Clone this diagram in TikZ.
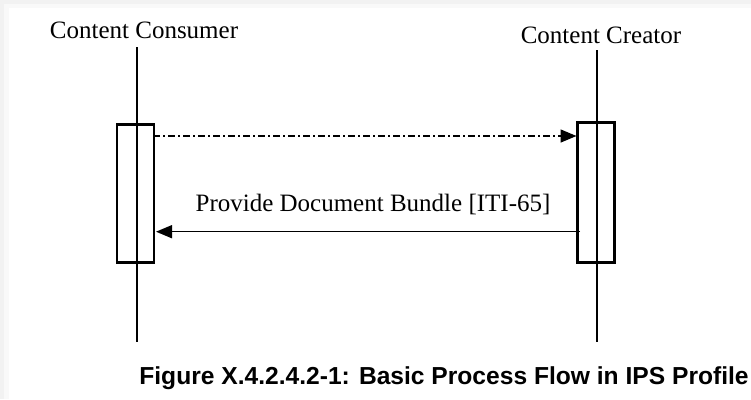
\documentclass[tikz,border=0pt]{standalone}
\usepackage{fontspec}
\setmainfont{Liberation Serif}
\newfontfamily\capfont{Liberation Sans}
\usetikzlibrary{arrows.meta}

\tikzset{
  actor/.style={font=\fontsize{25}{28}\selectfont, inner sep=0pt, anchor=base},
  lifeline/.style={line width=2pt},
  actbox/.style={draw, line width=2.6pt, fill=none, minimum width=37pt, inner sep=0pt},
  msg/.style={line width=1.5pt, -{Triangle[length=16pt, width=13pt]}},
  dashdot msg/.style={msg, dash pattern=on 7pt off 3pt on 2pt off 3pt},
  msglabel/.style={font=\fontsize{25}{28}\selectfont, inner sep=0pt, anchor=base},
  caption/.style={font=\capfont\bfseries\fontsize{24.6}{28}\selectfont, inner sep=0pt, anchor=base}
}

\begin{document}
\begin{tikzpicture}[x=1pt, y=-1pt]
  % page with a soft grey rim along the top and left edges
  \fill[gray!10] (0,0) rectangle (751,399);
  \fill[gray!5] (4,4) rectangle (751,399);
  \fill[white] (9,8) rectangle (751,399);
  \useasboundingbox (0,0) rectangle (751,399);

  % actors
  \node[actor] (consumer) at (144,38) {Content Consumer};
  \node[actor] (creator) at (601,43.5) {Content Creator};

  % lifelines
  \coordinate (consTop) at (136.7,47);
  \coordinate (consBot) at (136.7,342);
  \coordinate (creaTop) at (597.3,50);
  \coordinate (creaBot) at (597.3,342);
  \draw[lifeline] (consTop) -- (consBot);
  \draw[lifeline] (creaTop) -- (creaBot);

  % activation bars
  \node[actbox, minimum height=138pt] (consAct) at (135.5,193.5) {};
  \node[actbox, minimum height=140pt] (creaAct) at (596,192.5) {};

  % messages
  \coordinate (reqStart) at (153,136);
  \coordinate (reqEnd) at (576.5,136);
  \draw[dashdot msg] (reqStart) -- (reqEnd);

  \coordinate (rspStart) at (580,231.7);
  \coordinate (rspEnd) at (156,231.7);
  \draw[msg] (rspStart) -- (rspEnd);
  \node[msglabel] (rsplabel) at (373,211) {Provide Document Bundle [ITI-65]};

  % caption
  \node[caption] (cap) at (444,384) {Figure X.4.2.4.2-1: Basic Process Flow in IPS Profile};
\end{tikzpicture}
\end{document}
